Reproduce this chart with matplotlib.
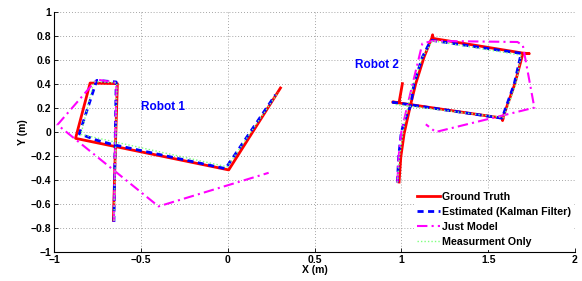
import matplotlib
matplotlib.use("Agg")
import matplotlib.pyplot as plt

# ---------------- data ----------------
# Robot 1
gt1_x = [-0.658, -0.647, -0.635, -0.792, -0.876, 0.006, 0.304]
gt1_y = [-0.736, -0.150, 0.403, 0.408, -0.053, -0.316, 0.367]
kf1_x = [-0.655, -0.648, -0.642, -0.754, -0.854, -0.750, -0.660, -0.013, 0.004, 0.275]
kf1_y = [-0.750, -0.100, 0.417, 0.430, -0.015, -0.070, -0.105, -0.305, -0.270, 0.310]
jm1_x = [-0.655, -0.648, -0.640, -0.754, -0.980, -0.398, 0.236]
jm1_y = [-0.745, -0.100, 0.410, 0.437, 0.060, -0.620, -0.340]
mo1_x = [-0.655, -0.645, -0.638, -0.770, -0.845, -0.003, 0.290]
mo1_y = [-0.740, -0.100, 0.410, 0.420, -0.020, -0.290, 0.330]

# Robot 2
gt2_x = [0.987, 0.997, 1.016, 1.050, 1.083, 1.131, 1.176, 1.180, 1.182,
         1.698, 1.737, 1.700, 1.654, 1.585, 1.583, 1.586, 0.950, 0.987, 1.006]
gt2_y = [-0.417, -0.208, -0.014, 0.208, 0.403, 0.625, 0.785, 0.810, 0.780,
         0.658, 0.653, 0.655, 0.403, 0.120, 0.095, 0.115, 0.250, 0.245, 0.403]
kf2_x = [0.977, 0.985, 1.000, 1.025, 1.054, 1.073, 1.120, 1.170, 1.690, 1.650, 1.580, 0.940]
kf2_y = [-0.420, -0.200, 0.000, 0.120, 0.220, 0.403, 0.620, 0.765, 0.655, 0.400, 0.115, 0.250]
jm2_x = [0.977, 0.985, 1.000, 1.035, 1.121, 1.179, 1.669, 1.700, 1.766, 1.198, 1.141]
jm2_y = [-0.420, -0.200, 0.000, 0.220, 0.737, 0.759, 0.750, 0.720, 0.203, 0.000, 0.064]
mo2_x = [0.977, 0.990, 1.020, 1.060, 1.120, 1.180, 1.690, 1.660, 1.590, 0.960]
mo2_y = [-0.420, -0.200, 0.100, 0.350, 0.620, 0.760, 0.640, 0.400, 0.120, 0.230]

x_ticks = [-1, -0.5, 0, 0.5, 1, 1.5, 2]
x_tick_labels = ["\u22121", "\u22120.5", "0", "0.5", "1", "1.5", "2"]
y_ticks = [-1, -0.8, -0.6, -0.4, -0.2, 0, 0.2, 0.4, 0.6, 0.8, 1]
y_tick_labels = ["\u22121", "\u22120.8", "\u22120.6", "\u22120.4", "\u22120.2", "0",
                 "0.2", "0.4", "0.6", "0.8", "1"]
legend_labels = ["Ground Truth", "Estimated (Kalman Filter)", "Just Model", "Measurment Only"]
robot_labels = ["Robot 1", "Robot 2"]

# ---------------- plot ----------------
plt.rcParams['font.family'] = ['Liberation Sans', 'DejaVu Sans']
plt.rcParams['font.weight'] = 'bold'

fig = plt.figure(figsize=(5.82, 2.81), dpi=100)
ax = fig.add_axes([54 / 582, 29 / 281, 521 / 582, 240 / 281])

red, blue, mag, green = '#ff0000', '#0000ff', '#ff00ff', '#7fff7f'

for (gx, gy, kx, ky, jx, jy, mx, my) in [
        (gt1_x, gt1_y, kf1_x, kf1_y, jm1_x, jm1_y, mo1_x, mo1_y),
        (gt2_x, gt2_y, kf2_x, kf2_y, jm2_x, jm2_y, mo2_x, mo2_y)]:
    l1, = ax.plot(gx, gy, color=red, ls='-', lw=2.0)
    l2, = ax.plot(kx, ky, color=blue, ls=(0, (2.2, 1.6)), lw=2.0)
    l3, = ax.plot(jx, jy, color=mag, ls=(0, (5, 2, 1, 2)), lw=1.5)
    l4, = ax.plot(mx, my, color=green, ls=(0, (1, 1.5)), lw=1.0)

ax.text(-0.50, 0.21, robot_labels[0], color=blue, fontsize=8.5, fontweight='bold', va='center')
ax.text(0.735, 0.555, robot_labels[1], color=blue, fontsize=8.5, fontweight='bold', va='center')

ax.set_xlim(-1, 2)
ax.set_ylim(-1, 1)
ax.set_xticks(x_ticks)
ax.set_xticklabels(x_tick_labels)
ax.set_yticks(y_ticks)
ax.set_yticklabels(y_tick_labels)
ax.tick_params(direction='in', length=3, width=0.6, labelsize=7.5, pad=2)
ax.grid(True, ls=(0, (1, 2.5)), color='#888888', lw=0.6)
ax.spines['top'].set_visible(False)
ax.spines['right'].set_visible(False)
for s in ('left', 'bottom'):
    ax.spines[s].set_linewidth(0.8)
ax.set_xlabel("X (m)", fontsize=7.5, fontweight='bold', labelpad=0)
ax.set_ylabel("Y (m)", fontsize=7.5, fontweight='bold', labelpad=2)

leg = ax.legend([l1, l2, l3, l4], legend_labels, loc='upper left',
                bbox_to_anchor=(414 / 582, 1 - 189 / 281), bbox_transform=fig.transFigure,
                fontsize=7.7, handlelength=2.1, handletextpad=0.2, labelspacing=0.45,
                borderpad=0.3, borderaxespad=0, frameon=True, framealpha=1,
                edgecolor='none', fancybox=False)
for t in leg.get_texts():
    t.set_fontweight('bold')

fig.savefig("out.png", dpi=100)
